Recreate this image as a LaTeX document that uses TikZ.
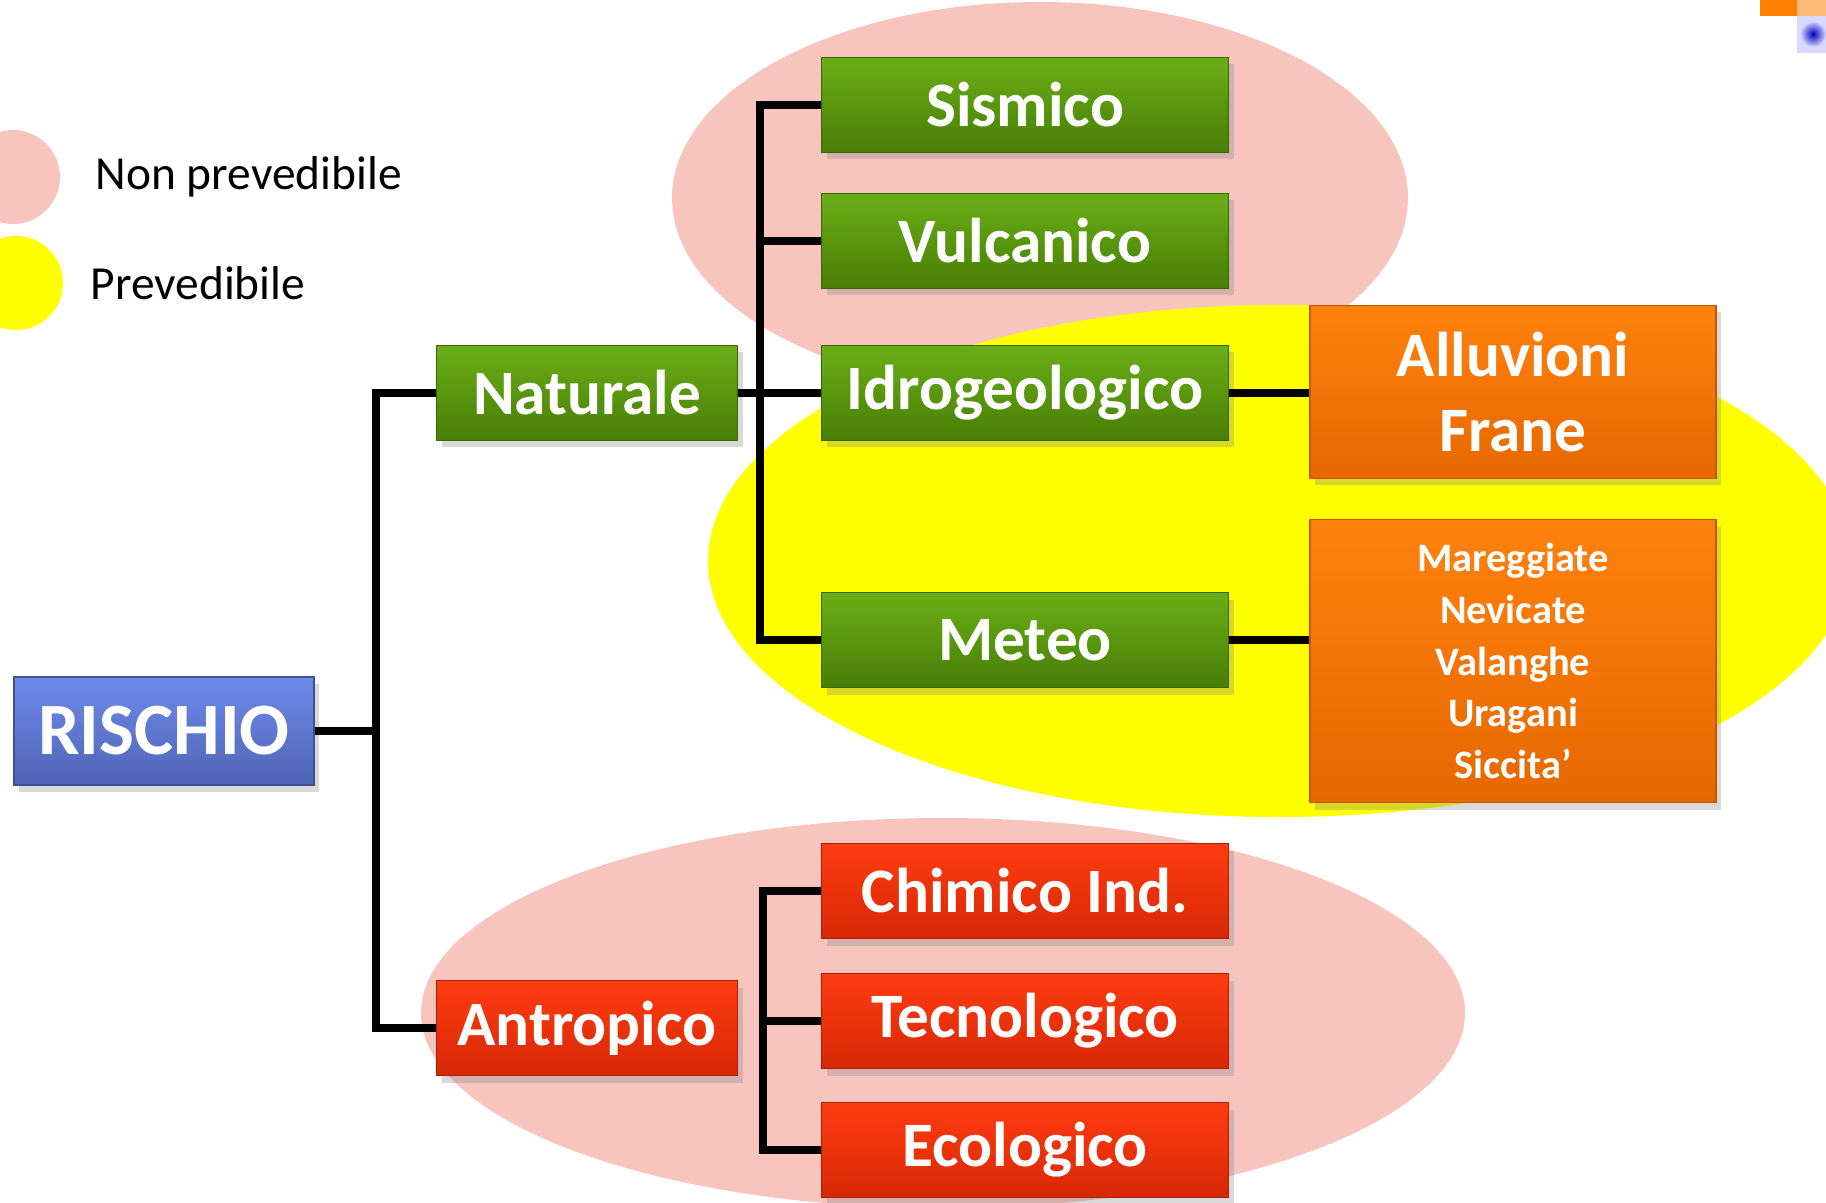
\documentclass[tikz,border=0pt]{standalone}
\usepackage{fontspec}
\setmainfont{Carlito}
\usetikzlibrary{shadows}

\definecolor{pinkzone}{RGB}{248,197,190}
\definecolor{yellowzone}{RGB}{255,255,0}
\definecolor{greentop}{RGB}{106,174,22}
\definecolor{greenbot}{RGB}{72,126,6}
\definecolor{redtop}{RGB}{255,60,16}
\definecolor{redbot}{RGB}{214,40,6}
\definecolor{orangetop}{RGB}{255,130,14}
\definecolor{orangebot}{RGB}{230,104,0}
\definecolor{bluetop}{RGB}{110,138,236}
\definecolor{bluebot}{RGB}{78,100,180}

\tikzset{
    box/.style={text=white, inner sep=0pt, align=center,
        font=\bfseries\fontsize{18}{21.6}\selectfont, minimum height=9.5mm,
        drop shadow={opacity=0.3, shadow xshift=0.5mm, shadow yshift=-0.7mm}},
    greenbox/.style={box, draw=greenbot!80!black, top color=greentop, bottom color=greenbot, minimum width=40.7mm},
    redbox/.style={box, draw=redbot!80!black, top color=redtop, bottom color=redbot, minimum width=40.7mm},
    orangebox/.style={box, draw=orangebot!85!black, top color=orangetop, bottom color=orangebot, minimum width=40.6mm},
    midbox/.style={minimum width=30.1mm},
    legendtext/.style={anchor=west, inner sep=0pt, font=\fontsize{13.5}{16}\selectfont},
    link/.style={line width=2.3pt, black}
}

\begin{document}
\begin{tikzpicture}[x=0.1mm, y=-0.1mm]

    \path[use as bounding box] (0,0) rectangle (1826,1203);

    % zones
    \begin{scope}
        \clip (0,0) rectangle (1826,1203);
        \fill[pinkzone] (1040,198) ellipse (368 and 196);
        \fill[yellowzone] (1279,561) ellipse (571 and 256);
        \fill[pinkzone] (943,1013) ellipse (522 and 195);
        \fill[pinkzone] (13,177) circle (47);
        \fill[yellowzone] (16,283) circle (47);

        \fill[orange] (1760,0) rectangle (1797,16);
        \fill[orangetop!55] (1797,0) rectangle (1826,16);
        \fill[blue!15] (1797,16) rectangle (1826,53);
        \shade[inner color=blue!75!black, outer color=blue!15] (1813,34) circle (13);
    \end{scope}

    \node[legendtext] (nonprev) at (95,177) {Non prevedibile};
    \node[legendtext] (prev) at (90,283) {Prevedibile};

    % tree
    \node[box, draw=bluebot!80!black, top color=bluetop, bottom color=bluebot,
        minimum width=30mm, minimum height=10.8mm,
        font=\bfseries\fontsize{21}{24}\selectfont] (rischio) at (164,731) {RISCHIO};

    \node[greenbox, midbox] (naturale) at (587,393) {Naturale};
    \node[redbox, midbox] (antropico) at (587,1028) {Antropico};

    \foreach \name/\y/\txt in {sismico/105/Sismico, vulcanico/241/Vulcanico,
        idro/393/Idrogeologico, meteo/640/Meteo}
        \node[greenbox] (\name) at (1025,\y) {\txt};

    \foreach \name/\y/\txt in {chimico/891/Chimico Ind., tecnologico/1021/Tecnologico,
        ecologico/1150/Ecologico}
        \node[redbox] (\name) at (1025,\y) {\txt};

    \node[orangebox, minimum height=17.3mm] (alluvioni) at (1513,392) {Alluvioni\\Frane};
    \node[orangebox, minimum height=28.3mm,
        font=\bfseries\fontsize{11.5}{14.7}\selectfont] (mareggiate) at (1513,661)
        {Mareggiate\\Nevicate\\Valanghe\\Uragani\\Siccita’};

    \draw[link] (rischio.east) -- ++(61,0) |- (naturale.west);
    \draw[link] (rischio.east) -- ++(61,0) |- (antropico.west);

    \foreach \name in {sismico,vulcanico,meteo}
        \draw[link] (naturale.east) -- ++(22,0) |- (\name.west);
    \draw[link] (naturale.east) -- (idro.west);

    \draw[link] (chimico.west) -- ++(-58,0) |- (ecologico.west);
    \draw[link] (tecnologico.west) -- ++(-58,0);

    \draw[link] (idro.east) -- (idro.east -| alluvioni.west);
    \draw[link] (meteo.east) -- (meteo.east -| mareggiate.west);

\end{tikzpicture}
\end{document}
